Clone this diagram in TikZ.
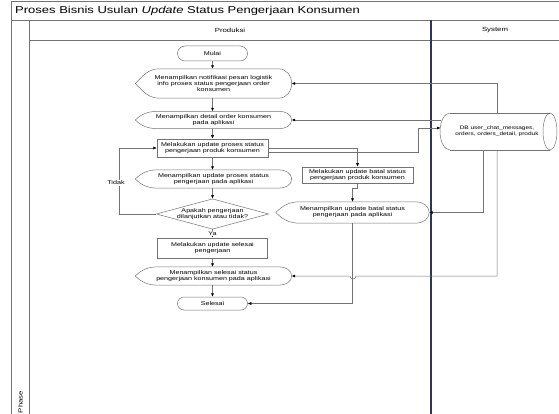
\documentclass[tikz,border=0pt]{standalone}
\usepackage{fontspec}
\setmainfont{Liberation Sans}[FakeStretch=1.3]
\usetikzlibrary{shapes.geometric,shapes.misc,arrows.meta}
\newcommand\dispshape[1]{\draw[outl] (#1.west) to[out=45,in=180] ([xshift=24pt]#1.north west) -- ([xshift=-13pt]#1.north east) to[out=0,in=90] (#1.east) to[out=-90,in=0] ([xshift=-13pt]#1.south east) -- ([xshift=24pt]#1.south west) to[out=180,in=-45] (#1.west);}
\tikzset{
  txt/.style={font=\fontsize{5.5}{6}\selectfont, align=center, inner sep=0pt},
  outl/.style={draw=black!55, line width=0.5pt},
  proc/.style={txt, outl, rectangle},
  term/.style={txt, outl, rounded rectangle},
  disp/.style={txt, minimum width=156pt},
  dec/.style={txt, outl, diamond, aspect=3.7, inner sep=0pt},
  conn/.style={draw=black!55, line width=0.5pt},
  arr/.style={conn, -{Latex[length=3.5pt,width=3pt,color=black]}},
  frame/.style={draw=black!55, line width=0.8pt},
  lbl/.style={txt, fill=white, inner sep=0.6pt}
}
\begin{document}
\begin{tikzpicture}[x=1pt,y=-1pt]
\useasboundingbox (0,0) rectangle (559,414);
% frame
\draw[frame] (11,1.5) -- (559,1.5);
\draw[frame] (11,1.5) -- (11,414);
\draw[frame] (11,20.5) -- (559,20.5);
\draw[frame] (29,20.5) -- (29,414);
\draw[frame] (29,40.5) -- (559,40.5);
\draw[draw=black!75!blue!60!gray, line width=1.1pt] (431,20.5) -- (431,414);
\node[anchor=west, inner sep=0pt, font=\fontsize{10}{11}\selectfont] (title) at (15,11) {Proses Bisnis Usulan \textit{Update} Status Pengerjaan Konsumen};
\node[txt, font=\fontsize{6}{7}\selectfont] (hprod) at (230,30.5) {Produksi};
\node[txt, font=\fontsize{6}{7}\selectfont] (hsys) at (495,30.5) {System};
\node[txt, font=\fontsize{6}{7}\selectfont, rotate=90] (phase) at (20.5,402) {Phase};
% nodes
\node[term, minimum width=70pt, minimum height=15pt] (mulai) at (212.5,53.5) {Mulai};
\node[disp, minimum height=29pt] (notif) at (213.5,83.5) {Menampilkan notifikasi pesan logistik\\info proses status pengerjaan order\\konsumen};
\node[disp, minimum height=17pt] (detail) at (213.5,120) {Menampilkan detail order konsumen\\pada aplikasi};
\node[proc, minimum width=111pt, minimum height=18pt] (proses) at (212.5,148) {Melakukan update proses status\\pengerjaan produk konsumen};
\node[disp, minimum height=18pt] (dproses) at (213.5,179) {Menampilkan update proses status\\pengerjaan pada aplikasi};
\node[dec, minimum width=96pt, minimum height=26pt] (dia) at (212.5,214) {Apakah pengerjaan\\dilanjutkan atau tidak?};
\node[proc, minimum width=110pt, minimum height=20pt] (sbox) at (212.5,248) {Melakukan update selesai\\pengerjaan};
\node[disp, minimum height=18pt] (dsel) at (213.5,276) {Menampilkan selesai status\\pengerjaan konsumen pada aplikasi};
\node[term, minimum width=70pt, minimum height=13pt] (selesai) at (212.5,303.5) {Selesai};
\node[proc, minimum width=111pt, minimum height=16pt] (batal) at (357.5,175) {Melakukan update batal status\\pengerjaan produk konsumen};
\node[disp, minimum width=153pt, minimum height=21pt] (dbatal) at (352.5,212.5) {Menampilkan update batal status\\pengerjaan pada aplikasi};
\node[txt, font=\fontsize{5}{6}\selectfont, minimum width=96pt, minimum height=37pt] (db) at (497,131.5) {DB user\_chat\_messages,\\orders, orders\_detail, produk};
% database cylinder drawn by hand
\draw[outl] (450,113) -- (550,113);
\draw[outl] (450,150) -- (550,150);
\draw[outl] (450,113) arc[start angle=-90,end angle=-270,x radius=10,y radius=18.5];
\draw[outl] (550,131.5) ellipse[x radius=7,y radius=18.5];
\coordinate (dbl) at (440,131.5);
\dispshape{notif}
\dispshape{detail}
\dispshape{dproses}
\dispshape{dsel}
\dispshape{dbatal}
\coordinate (tk) at (119,214);
\coordinate (j1) at (418,128);
\coordinate (hop) at (353,276);
% connectors
\draw[arr] (mulai.south) -- (mulai.south |- notif.north);
\draw[arr] (notif.south -| mulai.south) -- (mulai.south |- detail.north);
\draw[arr] (detail.south -| mulai.south) -- (mulai.south |- proses.north);
\draw[arr] (proses.south) -- (proses.south |- dproses.north);
\draw[arr] (dproses.south -| proses.south) -- (dia.north);
\draw[arr] (dia.south) -- node[lbl, pos=0.45] {Ya} (dia.south |- sbox.north);
\draw[arr] (sbox.south) -- (sbox.south |- dsel.north);
\draw[arr] (dsel.south -| sbox.south) -- (selesai.north);
\draw[arr] (dia.west) -- (tk) |- node[lbl, pos=0.235, xshift=-3pt] {Tidak} (proses.west);
\draw[arr] ([yshift=-4pt]proses.east) -| (j1) -- ([xshift=0.6pt]j1 -| dbl);
\draw[arr] (proses.east) -| (batal.north);
\draw[arr] (batal.south) -- ++(0,5) -| (dbatal.north);
\draw[arr] (db.north) |- (notif.east);
\draw[arr] ([xshift=1pt]detail.east -| dbl) -- (detail.east);
\draw[arr] ([xshift=-14pt]db.south) |- (dbatal.east);
\draw[arr] (db.south) |- ([xshift=3pt]hop) arc[start angle=0,end angle=180,radius=3] -- (dsel.east);
\draw[arr] (dbatal.south) |- (selesai.east);
\end{tikzpicture}
\end{document}
